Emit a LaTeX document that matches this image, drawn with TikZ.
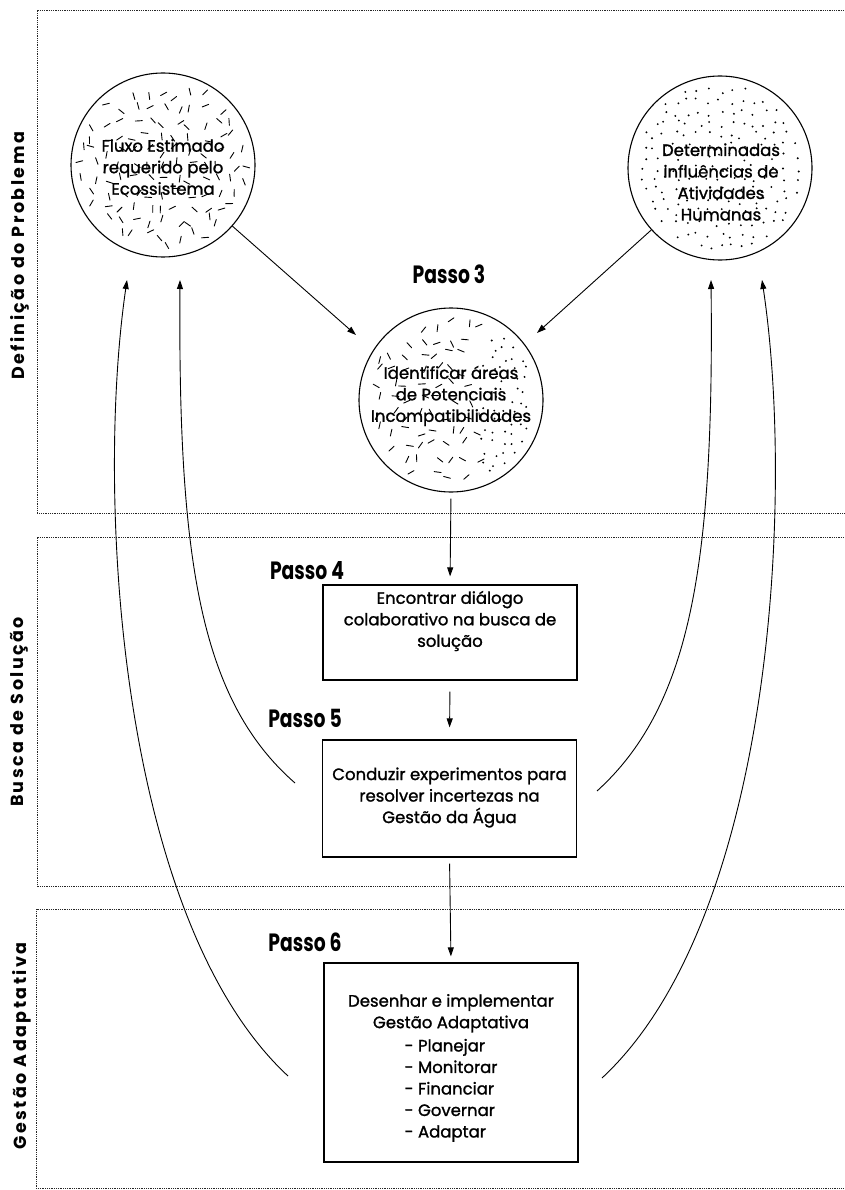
\documentclass[tikz,border=0pt]{standalone}
\usepackage{fontspec}
\setmainfont[FakeBold=1.3]{Poppins}
\newfontfamily\passofont[FakeStretch=0.75]{Poppins}
\newfontfamily\sectfont[LetterSpace=14]{Poppins}
\usetikzlibrary{arrows.meta,calc}

\tikzset{
  frameline/.style={draw=black!85, line width=0.9pt, dash pattern=on 1pt off 0.8pt},
  circ/.style={circle, draw, line width=1.1pt, minimum size=184pt, inner sep=0pt},
  stepbox/.style={rectangle, draw, line width=1.2pt, minimum width=254pt, inner sep=0pt},
  txt/.style={align=center, font=\fontsize{16.5}{21.5}\selectfont, inner sep=0pt},
  passo/.style={font=\passofont\bfseries\fontsize{25}{25}\selectfont, inner sep=0pt},
  sect/.style={font=\sectfont\bfseries\fontsize{17.5}{18}\selectfont, rotate=90, inner sep=0pt},
  arr/.style={line width=0.9pt, -{Triangle[length=9pt,width=6pt]}},
  hatch/.style={line width=0.9pt, line cap=round},
}

% jittered texture inside a circle: #1 centre node, #2 spacing, #3 = 1 dashes / 0 dots,
% #4 minimum and #5 maximum horizontal offset from the centre
\newcommand\texturefill[5]{%
  \foreach \i in {-7,...,7}{%
    \foreach \j in {-7,...,7}{%
      \pgfmathsetmacro{\px}{\i*#2+0.7*#2*(rnd-0.5)}%
      \pgfmathsetmacro{\py}{\j*#2+0.7*#2*(rnd-0.5)}%
      \pgfmathsetmacro{\oo}{180*rnd}%
      \pgfmathtruncatemacro{\ins}{(veclen(\px,\py)<84) && (\px>#4) && (\px<#5) ? 1 : 0}%
      \ifnum\ins=1
        \ifnum#3=1
          \draw[hatch] (#1.center) ++(\px,\py) ++(\oo:3.5) -- ++(\oo+180:7);
        \else
          \fill (#1.center) ++(\px,\py) circle[radius=1.05];
        \fi
      \fi
    }%
  }%
}

\begin{document}
\begin{tikzpicture}[x=1pt,y=1pt]
\fill[white] (0,0) rectangle (844,-1190);
\useasboundingbox (0,0) rectangle (844,-1190);

% section frames (open on the right)
\draw[frameline] (844,-10) -- (37,-10) -- (37,-513) -- (844,-513);
\draw[frameline] (844,-537) -- (37,-537) -- (37,-886) -- (844,-886);
\draw[frameline] (844,-909) -- (36,-909) -- (36,-1188) -- (844,-1188);

% section titles
\node[sect] (s1) at (20,-256) {Definição do Problema};
\node[sect] (s2) at (19,-712) {Busca de Solução};
\node[sect] (s3) at (22,-1046) {Gestão Adaptativa};

% circles
\node[circ] (c1) at (163,-165) {};
\node[circ] (c2) at (720,-168) {};
\node[circ] (c3) at (451,-400) {};

% textures
\pgfmathsetseed{2024}
\texturefill{c1}{14}{1}{-100}{100}
\texturefill{c2}{11}{0}{-100}{100}
\texturefill{c3}{15}{1}{-100}{30}
\texturefill{c3}{10.5}{0}{30}{100}

% circle texts
\node[txt] (t1) at (163,-167) {Fluxo Estimado\\requerido pelo\\Ecossistema};
\node[txt] (t2) at (721,-182) {Determinadas\\influências de\\Atividades\\Humanas};
\node[txt] (t3) at (451,-396) {Identificar áreas\\de Potenciais\\Incompatibilidades};

% step boxes
\node[stepbox, minimum height=95pt] (b4) at (450,-632.5) {};
\node[stepbox, minimum height=117pt] (b5) at (449.5,-798.5) {};
\node[stepbox, minimum height=199pt] (b6) at (451,-1062.5) {};

\node[txt] (t4) at (450,-621) {Encontrar diálogo\\colaborativo na busca de\\solução};
\node[txt] (t5) at (449.5,-797.5) {Conduzir experimentos para\\resolver incertezas na\\Gestão da Água};
\node[txt] (t6) at (451,-1069) {Desenhar e implementar\\Gestão Adaptativa\\[3pt]
  \begin{tabular}{@{}l@{}}- Planejar\\- Monitorar\\- Financiar\\- Governar\\- Adaptar\end{tabular}};

% step labels
\node[passo] (p3) at (449,-274) {Passo 3};
\node[passo] (p4) at (307,-571) {Passo 4};
\node[passo] (p5) at (305,-718) {Passo 5};
\node[passo] (p6) at (305,-942) {Passo 6};

% straight connectors
\coordinate (a13) at (356,-335);
\coordinate (a23) at (537,-333);
\draw[arr] (c1) -- (a13);
\draw[arr] (c2) -- (a23);
\draw[arr, shorten <=6pt, shorten >=8pt] (c3.south) -- (b4.north);
\draw[arr, shorten <=11pt, shorten >=12pt] (b4.south) -- (b5.north);
\draw[arr, shorten <=6pt, shorten >=6pt] (b5.south) -- (b6.north);

% feedback curves
\coordinate (lo0) at (288,-1076);
\coordinate (lo1) at (127,-280);
\coordinate (li0) at (295,-783);
\coordinate (li1) at (180,-280);
\coordinate (ri0) at (597,-791);
\coordinate (ri1) at (711,-280);
\coordinate (ro0) at (602,-1078);
\coordinate (ro1) at (762,-280);
\draw[arr] (lo0) .. controls (120,-920) and (95,-500) .. (lo1);
\draw[arr] (li0) .. controls (200,-700) and (178,-560) .. (li1);
\draw[arr] (ri0) .. controls (692,-705) and (714,-560) .. (ri1);
\draw[arr] (ro0) .. controls (772,-920) and (795,-500) .. (ro1);
\end{tikzpicture}
\end{document}
